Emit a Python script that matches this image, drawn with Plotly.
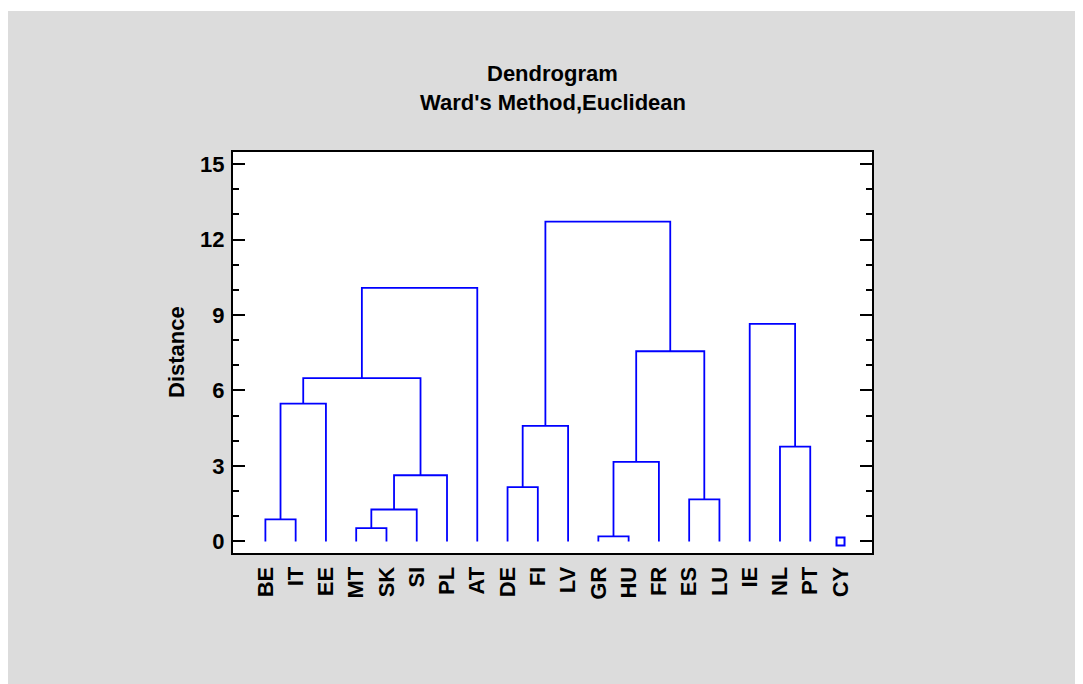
import plotly.graph_objects as go

# ---- data ----
leaf_labels = ["BE", "IT", "EE", "MT", "SK", "SI", "PL", "AT", "DE", "FI",
               "LV", "GR", "HU", "FR", "ES", "LU", "IE", "NL", "PT", "CY"]
# merges: (left node, right node, distance); nodes are leaf labels or merge ids "m<k>"
merge_left = ["BE", "m0", "MT", "m2", "m3", "m1", "m5",
              "DE", "m7", "GR", "m9", "ES", "m10", "m8",
              "NL", "IE"]
merge_right = ["IT", "EE", "SK", "SI", "PL", "m4", "AT",
               "FI", "LV", "HU", "FR", "LU", "m11", "m12",
               "PT", "m14"]
merge_dist = [0.88, 5.48, 0.53, 1.27, 2.63, 6.49, 10.08,
              2.16, 4.59, 0.20, 3.16, 1.67, 7.56, 12.71,
              3.77, 8.65]
singletons = ["CY"]
y_ticks = [0, 3, 6, 9, 12, 15]

# ---- build dendrogram segments ----
pos = {lab: i + 1 for i, lab in enumerate(leaf_labels)}
height = {lab: 0.0 for lab in leaf_labels}
xs, ys = [], []
for k, (a, b, d) in enumerate(zip(merge_left, merge_right, merge_dist)):
    xa, xb = pos[a], pos[b]
    ha, hb = height[a], height[b]
    xs += [xa, xa, xb, xb, None]
    ys += [ha, d, d, hb, None]
    pos[f"m{k}"] = (xa + xb) / 2
    height[f"m{k}"] = d

BLUE = "#0000FF"
fig = go.Figure()
fig.add_trace(go.Scatter(x=xs, y=ys, mode="lines",
                         line=dict(color=BLUE, width=1.8),
                         hoverinfo="skip", showlegend=False))
fig.add_trace(go.Scatter(x=[pos[s] for s in singletons], y=[0 for s in singletons],
                         mode="markers",
                         marker=dict(symbol="square-open", size=8, color=BLUE,
                                     line=dict(width=2, color=BLUE)),
                         hoverinfo="skip", showlegend=False))

FONT = "Liberation Sans, Arial, sans-serif"
GRAY = "#DCDCDC"

# plot area in figure pixels: x 225..864, y 144..545
fig.update_layout(
    width=1083, height=684,
    margin=dict(l=225, r=219, t=144, b=139, pad=0),
    paper_bgcolor=GRAY, plot_bgcolor="white",
    font=dict(family=FONT, color="black", size=20, weight="bold"),
    xaxis=dict(range=[-0.07, 21.04], tickmode="array",
               tickvals=list(range(1, len(leaf_labels) + 1)), ticktext=leaf_labels,
               tickangle=-90, ticks="", showgrid=False, zeroline=False,
               showline=True, linecolor="black", linewidth=2, mirror=True,
               tickfont=dict(family=FONT, size=22, color="black", weight="bold"),
               ticklabelstandoff=3),
    yaxis=dict(range=[-0.46, 15.48], tickvals=y_ticks,
               ticks="inside", ticklen=12, tickwidth=2, tickcolor="black",
               minor=dict(dtick=1, ticks="inside", ticklen=6, tickwidth=1.5,
                          tickcolor="black", showgrid=False),
               showgrid=False, zeroline=False,
               showline=True, linecolor="black", linewidth=2, mirror="allticks",
               tickfont=dict(family=FONT, size=22, color="black", weight="bold"),
               ticklabelstandoff=2),
    shapes=[
        dict(type="rect", xref="paper", yref="paper", layer="above",
             x0=-225 / 639, x1=(1083 - 225) / 639, y0=(545 - 3) / 401, y1=545 / 401,
             fillcolor="white", line=dict(width=0)),
    ],
    annotations=[
        dict(text="Dendrogram", xref="paper", yref="paper",
             x=(552 - 233) / 639, y=(553 - 74) / 401, xanchor="center", yanchor="middle",
             showarrow=False, font=dict(family=FONT, size=22, color="black", weight="bold")),
        dict(text="Ward's Method,Euclidean", xref="paper", yref="paper",
             x=(553 - 233) / 639, y=(553 - 103) / 401, xanchor="center", yanchor="middle",
             showarrow=False, font=dict(family=FONT, size=22, color="black", weight="bold")),
        dict(text="Distance", xref="paper", yref="paper", textangle=-90,
             x=(176 - 233) / 639, y=(553 - 352) / 401, xanchor="center", yanchor="middle",
             showarrow=False, font=dict(family=FONT, size=22, color="black", weight="bold")),
    ],
)

fig.write_html("out.html")
